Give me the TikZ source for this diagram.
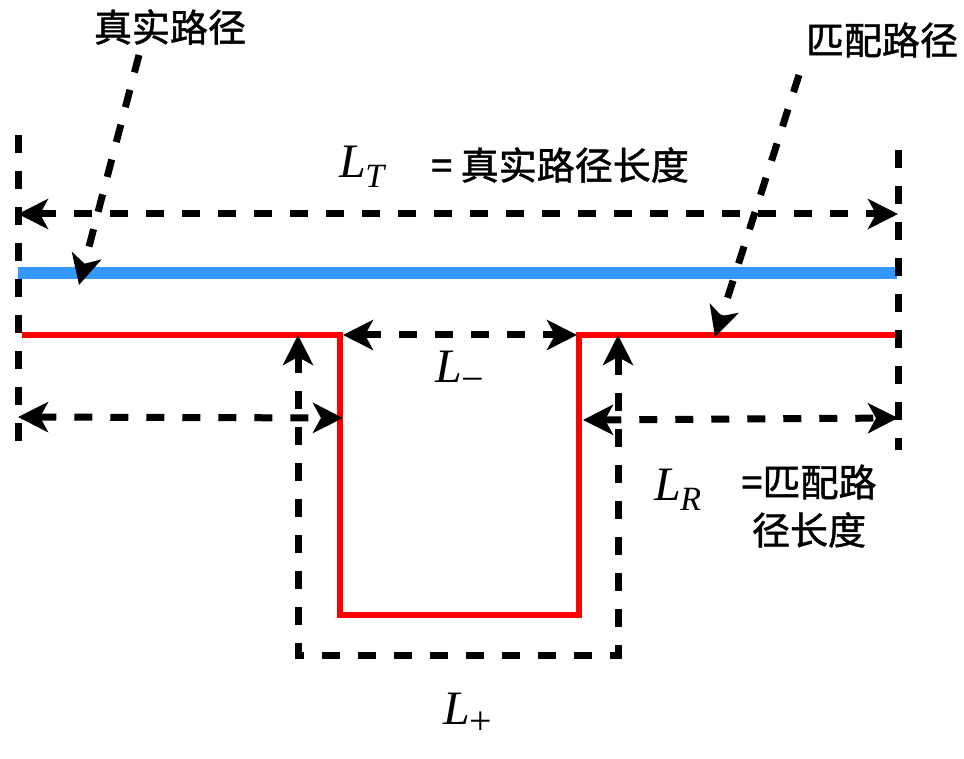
\documentclass[tikz,border=0pt]{standalone}
\usepackage{fontspec}
\newfontfamily\cjk{Noto Sans CJK SC}[FakeBold=1.2]
\newfontfamily\tms{Liberation Serif}
\usetikzlibrary{arrows.meta}
\definecolor{pathblue}{RGB}{51,153,255}
\newcommand{\Lsym}[2][34]{{\tms\fontsize{48}{52}\selectfont\itshape L}\kern-1pt\raisebox{-10pt}{\tms\fontsize{#1}{#1}\selectfont #2}}
\tikzset{
  dim/.style={line width=7pt, dash pattern=on 18pt off 18pt},
  tip/.style={{Stealth[length=30pt,width=30pt,inset=8pt]}-{Stealth[length=30pt,width=30pt,inset=8pt]}},
  endtip/.style={-{Stealth[length=30pt,width=30pt,inset=8pt]}},
  cjklbl/.style={font=\cjk\fontsize{38}{44}\selectfont, inner sep=0pt},
  mathlbl/.style={inner sep=0pt},
}
\begin{document}
\begin{tikzpicture}[x=1pt,y=-1pt]
\useasboundingbox (0,0) rectangle (964,759);
% coordinates
\coordinate (lt) at (18,135); \coordinate (lb) at (18,455);
\coordinate (rt) at (898,150); \coordinate (rb) at (898,450);
\coordinate (a1) at (18,214); \coordinate (a2) at (898,214);
\coordinate (b1) at (18,273); \coordinate (b2) at (897,273);
\coordinate (r1) at (22,335); \coordinate (r2) at (340,335);
\coordinate (r3) at (340,615); \coordinate (r4) at (579,615);
\coordinate (r5) at (579,335); \coordinate (r6) at (895,335);
\coordinate (m1) at (343,335); \coordinate (m2) at (577,335);
\coordinate (l1) at (18,417); \coordinate (l2) at (343,418);
\coordinate (q1) at (583,420); \coordinate (q2) at (898,418);
\coordinate (u1) at (298,335); \coordinate (u2) at (298,655);
\coordinate (u3) at (618,655); \coordinate (u4) at (618,335);
\coordinate (s1) at (139,55); \coordinate (e1) at (79,285);
\coordinate (s2) at (799,75); \coordinate (e2) at (715,337);
% paths
\draw[pathblue, line width=12pt] (b1) -- (b2);
\draw[red, line width=6pt] (r1) -- (r2) -- (r3) -- (r4) -- (r5) -- (r6);
\draw[dim] (lt) -- (lb);
\draw[dim] (rt) -- (rb);
\draw[dim, tip] (a1) -- (a2);
\draw[dim, tip] (m1) -- (m2);
\draw[dim, tip] (l1) -- (l2);
\draw[dim, tip] (q1) -- (q2);
\draw[dim, tip] (u1) -- (u2) -- (u3) -- (u4);
\draw[dim, endtip] (s1) -- (e1);
\draw[dim, endtip] (s2) -- (e2);
% labels
\node[cjklbl] (t1) at (170,27) {真实路径};
\node[cjklbl] (t2) at (882,40) {匹配路径};
\node[mathlbl] (LT) at (362,167) {\Lsym{\itshape T}};
\node[cjklbl] (LTt) at (560,165) {= 真实路径长度};
\node[mathlbl] (Lm) at (460,372) {\Lsym[40]{−}};
\node[mathlbl] (Lp) at (468,714) {\Lsym[40]{+}};
\node[mathlbl] (LR) at (678,490) {\Lsym{\itshape R}};
\node[cjklbl, align=center] (LRt) at (809,506) {=匹配路\\[4pt]径长度};
\end{tikzpicture}
\end{document}
